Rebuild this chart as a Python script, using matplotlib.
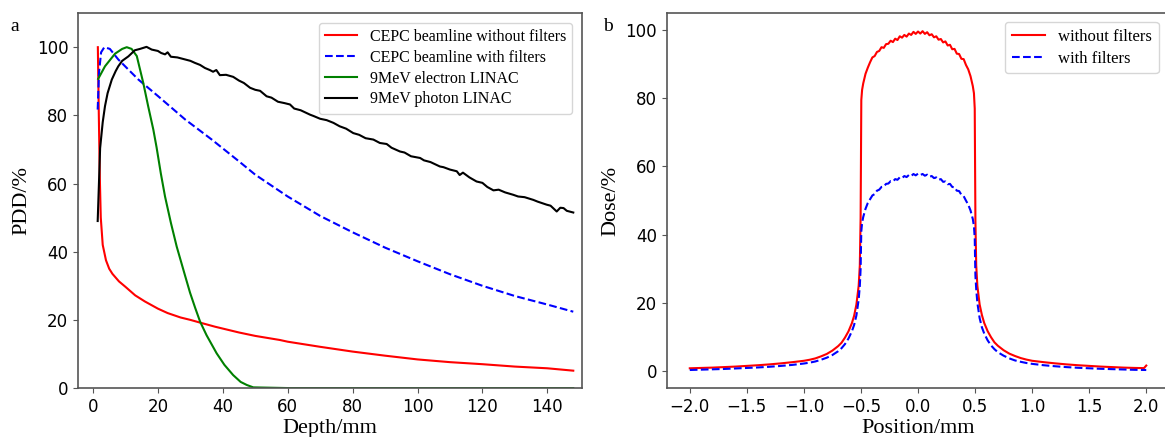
import matplotlib
matplotlib.use("Agg")
import matplotlib.pyplot as plt

# ---- panel a: depth dose curves ----
red_depth = [1.5, 1.8, 2.1, 2.4, 3.0, 4, 5, 6, 8, 10, 13, 16, 20, 23, 27, 30, 33, 37.6,
             45, 50, 57.6, 60, 70, 80, 90, 100, 110, 120, 130, 140, 148]
red_pdd = [100, 80, 62, 50, 42, 37.5, 35, 33.5, 31.3, 29.7, 27.2, 25.4, 23.3, 22, 20.7,
           20, 19.2, 18, 16.3, 15.3, 14.1, 13.6, 12.1, 10.7, 9.5, 8.4, 7.6, 7.0, 6.3, 5.8, 5.1]

blue_depth = [1.45, 1.85, 2.5, 3.5, 5.2, 7.8, 10, 14, 20.1, 28.4, 33, 36.6, 45, 50, 60,
              70, 80, 90, 100, 110, 120, 130, 140, 148]
blue_pdd = [81.7, 92.5, 98.5, 100, 99.5, 96.4, 94.3, 90.5, 85.6, 78.8, 75.5, 72.9, 66.5,
            62.6, 56.2, 50.5, 45.7, 41.2, 37.2, 33.4, 30.0, 27.0, 24.5, 22.4]

green_depth = [1.6, 3.7, 6.8, 9.0, 10.4, 11.9, 13.5, 15.5, 17.0, 18.6, 19.6, 20.9, 22.2,
               24.0, 25.8, 28.4, 29.9, 31.5, 33, 35, 38.1, 40.5, 43.2, 45.5, 47.4, 49.4,
               60, 148]
green_pdd = [90.7, 94.4, 98.1, 99.5, 100, 99.5, 97.4, 89.5, 82.7, 75.8, 70.6, 63.0, 56.2,
             48.5, 41.5, 32.9, 28.0, 23.5, 19.5, 15.5, 10.2, 6.8, 3.8, 1.8, 0.9, 0.2, 0, 0]

black_depth = [1.45, 2.2, 3, 3.7, 4.5, 5.8, 7, 7.8, 9, 10.9, 12.9, 14.5, 16.5, 18.1, 20,
               21, 22.2, 23, 24, 26, 28.4, 30, 31.4, 33, 34.5, 36, 37, 38, 39.1, 41,
               43.2, 45, 46.5, 48.4, 50, 51.5, 53.5, 55, 57, 59, 60.7, 62, 64, 66.9, 68,
               70, 72, 74.1, 76, 78, 80.2, 82, 84, 86.4, 88.4, 90.5, 92, 94.6, 96, 98,
               100.8, 102, 104, 106.9, 108, 110, 112.1, 113, 114, 116, 118.2, 120, 121.5,
               123.4, 125, 127, 129.5, 131, 133, 135.7, 137, 139.8, 141, 142.9, 144, 145,
               146, 148]
black_pdd = [49, 70.4, 78, 82.7, 86.5, 90.5, 93, 94.4, 96, 97.3, 99.1, 99.5, 100.1, 99.3,
             98.9, 98.3, 97.9, 98.5, 97.2, 97, 96.4, 96, 95.4, 94.8, 93.9, 93.3, 92.8,
             93.3, 91.8, 91.9, 91.3, 90.2, 89.5, 88.1, 87.5, 87.2, 85.6, 85.2, 84, 83.6,
             83.2, 82, 81.5, 80.2, 79.8, 79, 78.6, 77.8, 76.8, 76.1, 74.8, 74.3, 73.3,
             72.9, 71.9, 71.6, 70.5, 69.4, 69.1, 68, 67.5, 66.8, 66.3, 65, 64.8, 64.1,
             63.6, 62.5, 63.2, 61.8, 60.6, 60.2, 59, 58, 58.2, 57.4, 56.7, 56.2, 56,
             55.2, 54.7, 53.8, 53.5, 51.8, 52.9, 52.8, 52, 51.5]

# ---- panel b: lateral profiles ----
red_pos = [-2.0, -1.9, -1.8, -1.7, -1.6, -1.5, -1.4, -1.3, -1.2, -1.1, -1.0, -0.95, -0.9,
           -0.85, -0.8, -0.75, -0.7, -0.67, -0.64, -0.61, -0.58, -0.56, -0.54, -0.52,
           -0.51, -0.503, -0.5, -0.497, -0.49, -0.48, -0.46, -0.44,
           -0.42, -0.40, -0.38, -0.36, -0.34, -0.32, -0.30, -0.28, -0.26, -0.24, -0.22,
           -0.20, -0.18, -0.16, -0.14, -0.12, -0.10, -0.08, -0.06, -0.04, -0.02, 0.00,
           0.02, 0.04, 0.06, 0.08, 0.10, 0.12, 0.14, 0.16, 0.18, 0.20, 0.22, 0.24, 0.26,
           0.28, 0.30, 0.32, 0.34, 0.36, 0.38, 0.40, 0.42,
           0.44, 0.46, 0.48, 0.49, 0.497, 0.5, 0.503, 0.51, 0.52, 0.54, 0.56, 0.58, 0.61,
           0.64, 0.67, 0.7, 0.75, 0.8, 0.85, 0.9, 0.95, 1.0, 1.1, 1.2, 1.3, 1.4, 1.5,
           1.6, 1.7, 1.8, 1.9, 1.98, 2.0]
red_dose = [0.8, 0.9, 1.0, 1.15, 1.3, 1.5, 1.7, 1.95, 2.25, 2.6, 3.0, 3.3, 3.7,
            4.3, 5.0, 6.0, 7.3, 8.3, 9.8, 11.6, 14, 16.2, 19.5, 25,
            31, 45, 62, 79.5, 82.5, 84.4, 87.2, 89.0,
            90.6, 92.0, 92.4, 93.6, 93.9, 95.0, 94.8, 95.9, 96.0, 96.9, 96.5,
            97.5, 97.1, 98.2, 97.8, 98.6, 98.1, 99.0, 98.6, 99.5, 98.9, 99.6,
            99.0, 99.7, 98.9, 99.4, 98.5, 98.8, 97.9, 98.2, 97.2, 97.4, 96.4, 96.7, 95.5,
            95.7, 94.4, 94.5, 93.1, 93.0, 91.6, 91.5, 89.8,
            88.5, 86.5, 83.6, 81.5, 77, 60, 44, 31, 25, 19.5, 16.4, 14.1, 11.7,
            9.9, 8.4, 7.4, 6.1, 5.1, 4.4, 3.8, 3.35, 3.0, 2.6, 2.25, 1.95, 1.7, 1.5,
            1.3, 1.15, 1.0, 0.9, 0.85, 1.6]

blue_pos = [-2.0, -1.9, -1.8, -1.7, -1.6, -1.5, -1.4, -1.3, -1.2, -1.1, -1.0, -0.95, -0.9,
            -0.85, -0.8, -0.75, -0.7, -0.67, -0.64, -0.61, -0.58, -0.56, -0.54, -0.52,
            -0.51, -0.503, -0.5, -0.497, -0.49, -0.48, -0.46, -0.44,
            -0.42, -0.40, -0.38, -0.36, -0.34, -0.32, -0.30, -0.28, -0.26, -0.24, -0.22,
            -0.20, -0.18, -0.16, -0.14, -0.12, -0.10, -0.08, -0.06, -0.04, -0.02, 0.00,
            0.02, 0.04, 0.06, 0.08, 0.10, 0.12, 0.14, 0.16, 0.18, 0.20, 0.22, 0.24, 0.26,
            0.28, 0.30, 0.32, 0.34, 0.36, 0.38, 0.40, 0.42,
            0.44, 0.46, 0.48, 0.49, 0.497, 0.5, 0.503, 0.51, 0.52, 0.54, 0.56, 0.58, 0.61,
            0.64, 0.67, 0.7, 0.75, 0.8, 0.85, 0.9, 0.95, 1.0, 1.1, 1.2, 1.3, 1.4, 1.5,
            1.6, 1.7, 1.8, 1.9, 2.0]
blue_dose = [0.3, 0.4, 0.5, 0.6, 0.75, 0.9, 1.05, 1.25, 1.5, 1.8, 2.2, 2.45, 2.8,
             3.3, 3.9, 4.7, 5.8, 6.7, 7.9, 9.5, 11.6, 13.5, 16.3, 21,
             25, 30, 36, 41, 43.5, 45.2, 47.6, 49.3,
             50.4, 51.5, 51.9, 52.9, 53.2, 54.0, 54.1, 54.9, 55.0, 55.7, 55.6,
             56.3, 56.1, 56.8, 56.6, 57.2, 56.9, 57.5, 57.2, 57.8, 57.4, 57.9,
             57.5, 57.8, 57.3, 57.6, 57.0, 57.2, 56.6, 56.8, 56.1, 56.3, 55.5, 55.6, 54.8,
             54.9, 54.0, 53.9, 52.9, 52.8, 51.7, 51.3, 50.0,
             48.8, 47.1, 44.6, 42.5, 39, 33, 28, 24, 20, 15.5, 12.8, 11.0, 9.0,
             7.5, 6.4, 5.5, 4.5, 3.7, 3.1, 2.7, 2.35, 2.1, 1.7, 1.4, 1.15, 0.95, 0.8,
             0.65, 0.55, 0.45, 0.35, 0.3]

serif = ["Liberation Serif", "DejaVu Serif"]
spine_color = "#555555"

fig = plt.figure(figsize=(11.65, 4.37), dpi=100)
ax1 = fig.add_axes([0.067, 0.112, 0.4326, 0.858])
ax2 = fig.add_axes([0.5725, 0.112, 0.431, 0.858])

ax1.plot(red_depth, red_pdd, color="red", lw=1.5, label="CEPC beamline without filters")
ax1.plot(blue_depth, blue_pdd, color="blue", lw=1.5, ls="--", label="CEPC beamline with filters")
ax1.plot(green_depth, green_pdd, color="green", lw=1.5, label="9MeV electron LINAC")
ax1.plot(black_depth, black_pdd, color="black", lw=1.5, label="9MeV photon LINAC")
ax1.set_xlim(-4.6, 150.7)
ax1.set_ylim(0, 110)
ax1.set_xticks([0, 20, 40, 60, 80, 100, 120, 140])
ax1.set_yticks([0, 20, 40, 60, 80, 100])
ax1.set_xlabel("Depth/mm", family=serif, fontsize=16, labelpad=2)
ax1.set_ylabel("PDD/%", family=serif, fontsize=16)
ax1.legend(loc="upper right", prop={"family": serif, "size": 11.5}, labelspacing=0.3,
           borderaxespad=0.6)

ax2.plot(red_pos, red_dose, color="red", lw=1.5, label="without filters")
ax2.plot(blue_pos, blue_dose, color="blue", lw=1.5, ls="--", label="with filters")
ax2.set_xlim(-2.2, 2.2)
ax2.set_ylim(-5, 105)
ax2.set_xticks([-2.0, -1.5, -1.0, -0.5, 0.0, 0.5, 1.0, 1.5, 2.0])
ax2.set_yticks([0, 20, 40, 60, 80, 100])
ax2.set_xlabel("Position/mm", family=serif, fontsize=16, labelpad=2)
ax2.set_ylabel("Dose/%", family=serif, fontsize=16)
ax2.legend(loc="upper left", bbox_to_anchor=(0.673, 0.976), borderaxespad=0,
           prop={"family": serif, "size": 12}, labelspacing=0.35)

for ax in (ax1, ax2):
    ax.tick_params(labelsize=12, color=spine_color)
    for sp in ax.spines.values():
        sp.set_color(spine_color)
        sp.set_linewidth(1.2)

fig.text(0.009, 0.93, "a", family=serif, fontsize=14)
fig.text(0.518, 0.93, "b", family=serif, fontsize=14)

fig.savefig("out.png", dpi=100)
